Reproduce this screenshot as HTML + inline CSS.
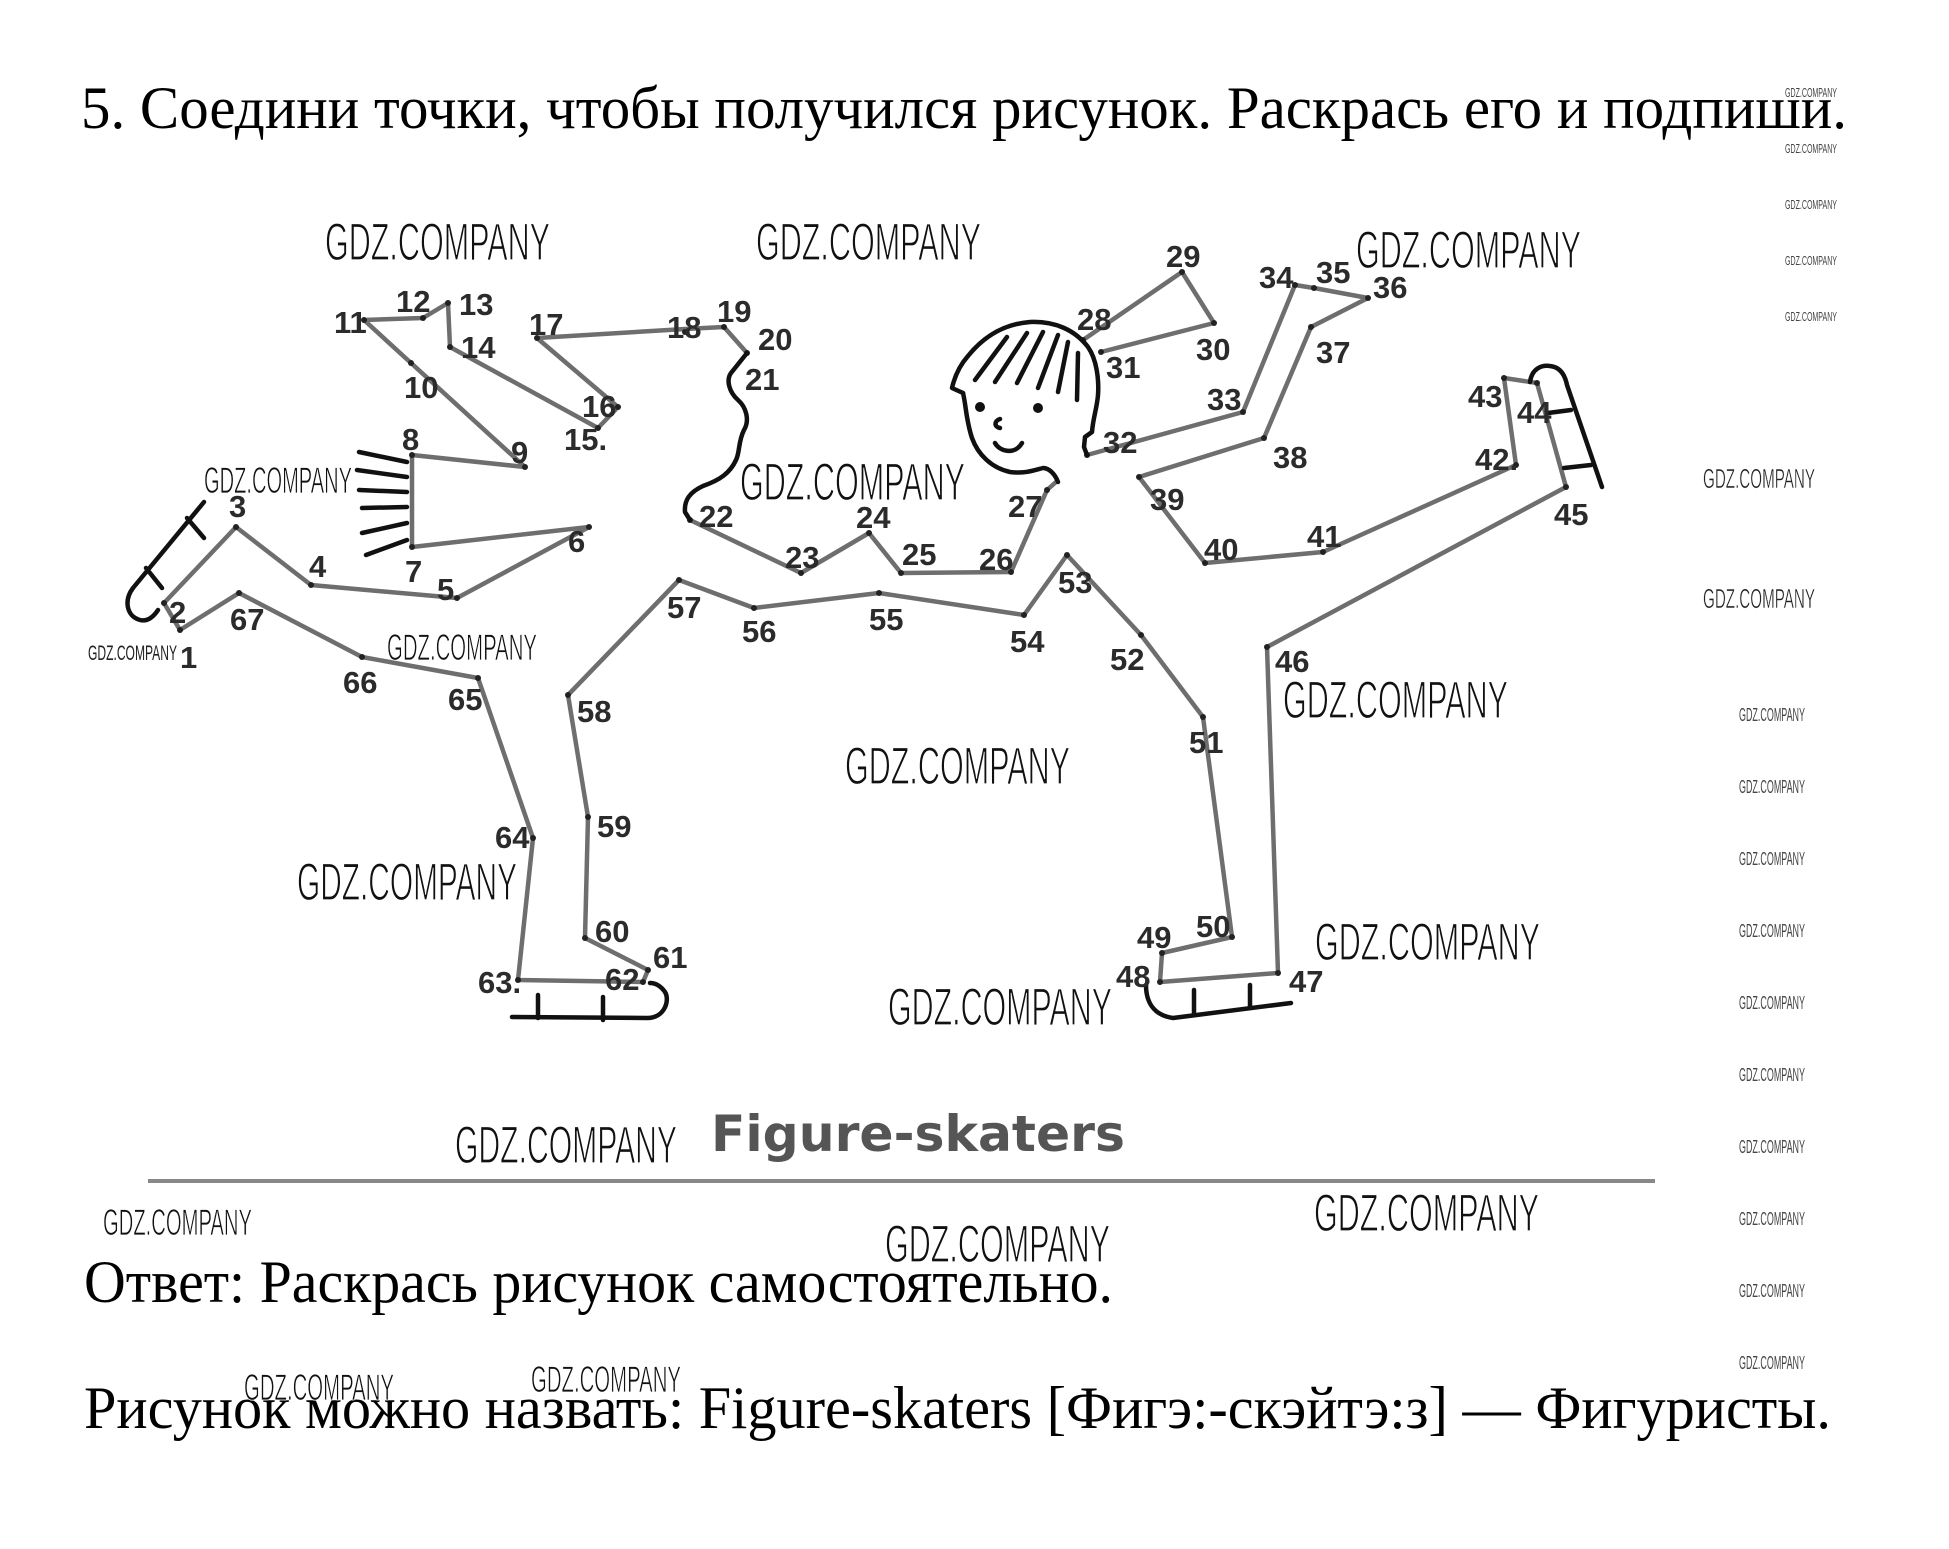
<!DOCTYPE html>
<html><head><meta charset="utf-8"><style>
html,body{margin:0;padding:0;background:#fff;}
svg{display:block;}
.n{font-family:"Liberation Sans",sans-serif;font-weight:bold;font-size:31px;fill:#2b2b2b;}
.wb{font-family:"Liberation Sans",sans-serif;font-size:53px;fill:#111;stroke:#fff;stroke-width:1.2px;}
.ws{font-family:"Liberation Sans",sans-serif;font-size:37px;fill:#111;stroke:#fff;stroke-width:0.8px;}
.wm{font-family:"Liberation Sans",sans-serif;font-size:28px;fill:#222;stroke:#fff;stroke-width:0.5px;}
.wt{font-family:"Liberation Sans",sans-serif;font-size:18px;fill:#444;}
.wx{font-family:"Liberation Sans",sans-serif;font-size:13px;fill:#444;}
.serif{font-family:"Liberation Serif","Noto Serif CJK SC",serif;font-size:60px;fill:#000;}
</style></head><body>
<svg width="1949" height="1549" viewBox="0 0 1949 1549" xmlns="http://www.w3.org/2000/svg">
<rect width="1949" height="1549" fill="#fff"/>

<!-- Title -->
<text class="serif" x="81" y="128" textLength="1766" lengthAdjust="spacingAndGlyphs">5. Соедини точки, чтобы получился рисунок. Раскрась его и подпиши.</text>

<!-- grey connecting lines -->
<g fill="none" stroke="#6e6e6e" stroke-width="4.5" stroke-linejoin="round" stroke-linecap="round">
<polyline points="180,630 164,603 236,527 311,585 457,598 589,527 412,547 412,455 525,467 411,363 364,320 423,318 448,303 450,347 598,428 618,407 537,338 685,329 724,327 747,353"/>
<polyline points="690,520 801,573 869,533 901,573 1011,572 1047,490 1056,482"/>
<polyline points="1083,340 1182,272 1214,323 1101,352"/>
<polyline points="1087,455 1243,412 1295,285 1314,288 1368,298 1311,327 1264,438 1139,477 1205,563 1323,552 1516,465 1504,378 1537,383 1566,487 1267,647 1278,973 1160,982 1162,953 1232,937 1203,717 1141,635 1067,555 1024,615 879,593 754,608 679,580 568,695 588,817 585,938 648,970 643,982 518,980 533,838 478,678 362,657 239,593 180,630"/>
</g>

<!-- dots -->
<g fill="#222">
<circle cx="180" cy="630" r="3"/><circle cx="164" cy="603" r="3"/><circle cx="236" cy="527" r="3"/><circle cx="311" cy="585" r="3"/>
<circle cx="457" cy="598" r="3"/><circle cx="589" cy="527" r="3"/><circle cx="412" cy="547" r="3"/><circle cx="412" cy="455" r="3"/>
<circle cx="525" cy="467" r="3"/><circle cx="411" cy="363" r="3"/><circle cx="364" cy="320" r="3"/><circle cx="423" cy="318" r="3"/>
<circle cx="448" cy="303" r="3"/><circle cx="450" cy="347" r="3"/><circle cx="598" cy="428" r="3"/><circle cx="618" cy="407" r="3"/>
<circle cx="537" cy="338" r="3"/><circle cx="685" cy="332" r="3"/><circle cx="724" cy="327" r="3"/><circle cx="747" cy="353" r="3"/>
<circle cx="690" cy="520" r="3"/><circle cx="801" cy="573" r="3"/><circle cx="869" cy="533" r="3"/><circle cx="901" cy="573" r="3"/>
<circle cx="1011" cy="572" r="3"/><circle cx="1047" cy="490" r="3"/><circle cx="1083" cy="340" r="3"/><circle cx="1182" cy="272" r="3"/>
<circle cx="1214" cy="323" r="3"/><circle cx="1101" cy="352" r="3"/><circle cx="1087" cy="455" r="3"/><circle cx="1243" cy="412" r="3"/>
<circle cx="1295" cy="285" r="3"/><circle cx="1314" cy="288" r="3"/><circle cx="1368" cy="298" r="3"/><circle cx="1311" cy="327" r="3"/>
<circle cx="1264" cy="438" r="3"/><circle cx="1139" cy="477" r="3"/><circle cx="1205" cy="563" r="3"/><circle cx="1323" cy="552" r="3"/>
<circle cx="1516" cy="465" r="3"/><circle cx="1504" cy="378" r="3"/><circle cx="1537" cy="383" r="3"/><circle cx="1566" cy="487" r="3"/>
<circle cx="1267" cy="647" r="3"/><circle cx="1278" cy="973" r="3"/><circle cx="1160" cy="982" r="3"/><circle cx="1162" cy="953" r="3"/>
<circle cx="1232" cy="937" r="3"/><circle cx="1203" cy="717" r="3"/><circle cx="1141" cy="635" r="3"/><circle cx="1067" cy="555" r="3"/>
<circle cx="1024" cy="615" r="3"/><circle cx="879" cy="593" r="3"/><circle cx="754" cy="608" r="3"/><circle cx="679" cy="580" r="3"/>
<circle cx="568" cy="695" r="3"/><circle cx="588" cy="817" r="3"/><circle cx="585" cy="938" r="3"/><circle cx="648" cy="970" r="3"/>
<circle cx="643" cy="982" r="3"/><circle cx="518" cy="980" r="3"/><circle cx="533" cy="838" r="3"/><circle cx="478" cy="678" r="3"/>
<circle cx="362" cy="657" r="3"/><circle cx="239" cy="593" r="3"/>
</g>

<!-- black predrawn parts -->
<g fill="none" stroke="#111" stroke-width="4.5" stroke-linecap="round" stroke-linejoin="round">
<path d="M747,353 L731,373 C726,380 729,392 738,400 C746,407 750,420 744,430 C738,442 740,452 736,460 C730,473 720,480 703,486 C690,492 684,500 685,512 L690,520"/>
<path d="M204,502 L133,588 C124,600 126,616 140,620 C148,622 154,616 158,610"/>
<line x1="187" y1="518" x2="204" y2="538"/>
<line x1="146" y1="568" x2="162" y2="588"/>
<path d="M1530,382 C1532,368 1542,365 1550,366 C1560,367 1565,375 1567,385 L1602,487"/>
<line x1="1548" y1="413" x2="1571" y2="410"/>
<line x1="1564" y1="468" x2="1591" y2="465"/>
<path d="M1146,985 C1146,1000 1152,1015 1173,1018 L1291,1003"/>
<line x1="1194" y1="990" x2="1194" y2="1013"/>
<line x1="1250" y1="985" x2="1250" y2="1008"/>
<path d="M512,1017 L647,1018 C665,1018 670,1000 665,992 C660,985 655,983 650,983"/>
<line x1="538" y1="995" x2="538" y2="1018"/>
<line x1="603" y1="997" x2="603" y2="1020"/>
<line x1="359" y1="452" x2="407" y2="462"/>
<line x1="357" y1="470" x2="407" y2="477"/>
<line x1="359" y1="490" x2="407" y2="492"/>
<line x1="362" y1="508" x2="407" y2="507"/>
<line x1="362" y1="533" x2="407" y2="523"/>
<line x1="366" y1="555" x2="407" y2="540"/>
<path d="M963,393 L952,388 C955,375 960,365 968,356 C985,335 1005,324 1030,322 C1055,321 1075,330 1088,347 C1097,360 1099,380 1098,395 C1097,408 1093,418 1092,432 L1085,437 L1084,447 L1087,455"/>
<path d="M963,393 C966,405 966,420 972,438 C978,455 992,468 1010,472 C1025,474 1035,470 1043,468 C1049,468 1055,474 1058,482"/>
<line x1="975" y1="380" x2="1007" y2="337"/>
<line x1="995" y1="382" x2="1027" y2="333"/>
<line x1="1017" y1="383" x2="1043" y2="332"/>
<line x1="1038" y1="388" x2="1058" y2="335"/>
<line x1="1058" y1="392" x2="1068" y2="342"/>
<line x1="1077" y1="400" x2="1078" y2="353"/>
<path d="M1000,419 C994,421 994,427 1000,428"/>
<path d="M995,443 C1000,452 1015,455 1022,443"/>
</g>
<circle cx="980" cy="407" r="5" fill="#111"/>
<circle cx="1038" cy="408" r="5" fill="#111"/>

<!-- numbers -->
<g class="n">
<text x="180" y="668">1</text>
<text x="169" y="623">2</text>
<text x="229" y="517">3</text>
<text x="309" y="577">4</text>
<text x="437" y="600">5</text>
<text x="568" y="552">6</text>
<text x="405" y="582">7</text>
<text x="402" y="450">8</text>
<text x="511" y="463">9</text>
<text x="404" y="398">10</text>
<text x="334" y="333">11</text>
<text x="396" y="312">12</text>
<text x="459" y="315">13</text>
<text x="461" y="358">14</text>
<text x="564" y="450">15.</text>
<text x="582" y="417">16</text>
<text x="529" y="335">17</text>
<text x="667" y="338">18</text>
<text x="717" y="322">19</text>
<text x="758" y="350">20</text>
<text x="745" y="390">21</text>
<text x="699" y="527">22</text>
<text x="785" y="568">23</text>
<text x="856" y="528">24</text>
<text x="902" y="565">25</text>
<text x="979" y="570">26</text>
<text x="1008" y="517">27</text>
<text x="1077" y="330">28</text>
<text x="1166" y="267">29</text>
<text x="1196" y="360">30</text>
<text x="1106" y="378">31</text>
<text x="1103" y="453">32</text>
<text x="1207" y="410">33</text>
<text x="1259" y="288">34</text>
<text x="1316" y="283">35</text>
<text x="1373" y="298">36</text>
<text x="1316" y="363">37</text>
<text x="1273" y="468">38</text>
<text x="1150" y="510">39</text>
<text x="1204" y="560">40</text>
<text x="1307" y="547">41</text>
<text x="1475" y="470">42.</text>
<text x="1468" y="407">43</text>
<text x="1517" y="423">44</text>
<text x="1554" y="525">45</text>
<text x="1275" y="672">46</text>
<text x="1289" y="992">47</text>
<text x="1116" y="987">48</text>
<text x="1137" y="948">49</text>
<text x="1196" y="937">50</text>
<text x="1189" y="753">51</text>
<text x="1110" y="670">52</text>
<text x="1058" y="593">53</text>
<text x="1010" y="652">54</text>
<text x="869" y="630">55</text>
<text x="742" y="642">56</text>
<text x="667" y="618">57</text>
<text x="577" y="722">58</text>
<text x="597" y="837">59</text>
<text x="595" y="942">60</text>
<text x="653" y="968">61</text>
<text x="605" y="990">62</text>
<text x="478" y="993">63.</text>
<text x="495" y="848">64</text>
<text x="448" y="710">65</text>
<text x="343" y="693">66</text>
<text x="230" y="630">67</text>
</g>

<!-- Figure-skaters -->
<text x="711" y="1151" textLength="414" lengthAdjust="spacingAndGlyphs" style="font-family:'DejaVu Sans','Liberation Sans',sans-serif;font-weight:bold;font-size:50px;fill:#555;">Figure-skaters</text>
<line x1="148" y1="1181" x2="1655" y2="1181" stroke="#888" stroke-width="4"/>

<!-- answer text -->
<text class="serif" x="84" y="1302" textLength="1029" lengthAdjust="spacingAndGlyphs">Ответ: Раскрась рисунок самостоятельно.</text>
<text class="serif" x="84" y="1428" textLength="1747" lengthAdjust="spacingAndGlyphs">Рисунок можно назвать: Figure-skaters [Фигэ:-скэйтэ:з] — Фигуристы.</text>

<!-- watermarks big -->
<g class="wb">
<text x="325" y="260" textLength="225" lengthAdjust="spacingAndGlyphs">GDZ.COMPANY</text>
<text x="756" y="260" textLength="225" lengthAdjust="spacingAndGlyphs">GDZ.COMPANY</text>
<text x="1356" y="268" textLength="225" lengthAdjust="spacingAndGlyphs">GDZ.COMPANY</text>
<text x="740" y="500" textLength="225" lengthAdjust="spacingAndGlyphs">GDZ.COMPANY</text>
<text x="1283" y="718" textLength="225" lengthAdjust="spacingAndGlyphs">GDZ.COMPANY</text>
<text x="845" y="784" textLength="225" lengthAdjust="spacingAndGlyphs">GDZ.COMPANY</text>
<text x="297" y="900" textLength="220" lengthAdjust="spacingAndGlyphs">GDZ.COMPANY</text>
<text x="1315" y="960" textLength="225" lengthAdjust="spacingAndGlyphs">GDZ.COMPANY</text>
<text x="888" y="1025" textLength="224" lengthAdjust="spacingAndGlyphs">GDZ.COMPANY</text>
<text x="455" y="1163" textLength="222" lengthAdjust="spacingAndGlyphs">GDZ.COMPANY</text>
<text x="1314" y="1231" textLength="225" lengthAdjust="spacingAndGlyphs">GDZ.COMPANY</text>
<text x="885" y="1262" textLength="225" lengthAdjust="spacingAndGlyphs">GDZ.COMPANY</text>
</g>
<g class="ws">
<text x="204" y="493" textLength="148" lengthAdjust="spacingAndGlyphs">GDZ.COMPANY</text>
<text x="387" y="660" textLength="150" lengthAdjust="spacingAndGlyphs">GDZ.COMPANY</text>
<text x="103" y="1235" textLength="149" lengthAdjust="spacingAndGlyphs">GDZ.COMPANY</text>
<text x="244" y="1400" textLength="150" lengthAdjust="spacingAndGlyphs">GDZ.COMPANY</text>
<text x="531" y="1392" textLength="150" lengthAdjust="spacingAndGlyphs">GDZ.COMPANY</text>
</g>
<g class="wm">
<text x="1703" y="488" textLength="112" lengthAdjust="spacingAndGlyphs">GDZ.COMPANY</text>
<text x="1703" y="608" textLength="112" lengthAdjust="spacingAndGlyphs">GDZ.COMPANY</text>
</g>
<g class="wt">
<text x="88" y="660" textLength="89" lengthAdjust="spacingAndGlyphs" style="font-size:21px;fill:#222">GDZ.COMPANY</text>
<text x="1739" y="721" textLength="66" lengthAdjust="spacingAndGlyphs">GDZ.COMPANY</text>
<text x="1739" y="793" textLength="66" lengthAdjust="spacingAndGlyphs">GDZ.COMPANY</text>
<text x="1739" y="865" textLength="66" lengthAdjust="spacingAndGlyphs">GDZ.COMPANY</text>
<text x="1739" y="937" textLength="66" lengthAdjust="spacingAndGlyphs">GDZ.COMPANY</text>
<text x="1739" y="1009" textLength="66" lengthAdjust="spacingAndGlyphs">GDZ.COMPANY</text>
<text x="1739" y="1081" textLength="66" lengthAdjust="spacingAndGlyphs">GDZ.COMPANY</text>
<text x="1739" y="1153" textLength="66" lengthAdjust="spacingAndGlyphs">GDZ.COMPANY</text>
<text x="1739" y="1225" textLength="66" lengthAdjust="spacingAndGlyphs">GDZ.COMPANY</text>
<text x="1739" y="1297" textLength="66" lengthAdjust="spacingAndGlyphs">GDZ.COMPANY</text>
<text x="1739" y="1369" textLength="66" lengthAdjust="spacingAndGlyphs">GDZ.COMPANY</text>
</g>
<g class="wx">
<text x="1785" y="97" textLength="52" lengthAdjust="spacingAndGlyphs">GDZ.COMPANY</text>
<text x="1785" y="153" textLength="52" lengthAdjust="spacingAndGlyphs">GDZ.COMPANY</text>
<text x="1785" y="209" textLength="52" lengthAdjust="spacingAndGlyphs">GDZ.COMPANY</text>
<text x="1785" y="265" textLength="52" lengthAdjust="spacingAndGlyphs">GDZ.COMPANY</text>
<text x="1785" y="321" textLength="52" lengthAdjust="spacingAndGlyphs">GDZ.COMPANY</text>
</g>
</svg>
</body></html>
